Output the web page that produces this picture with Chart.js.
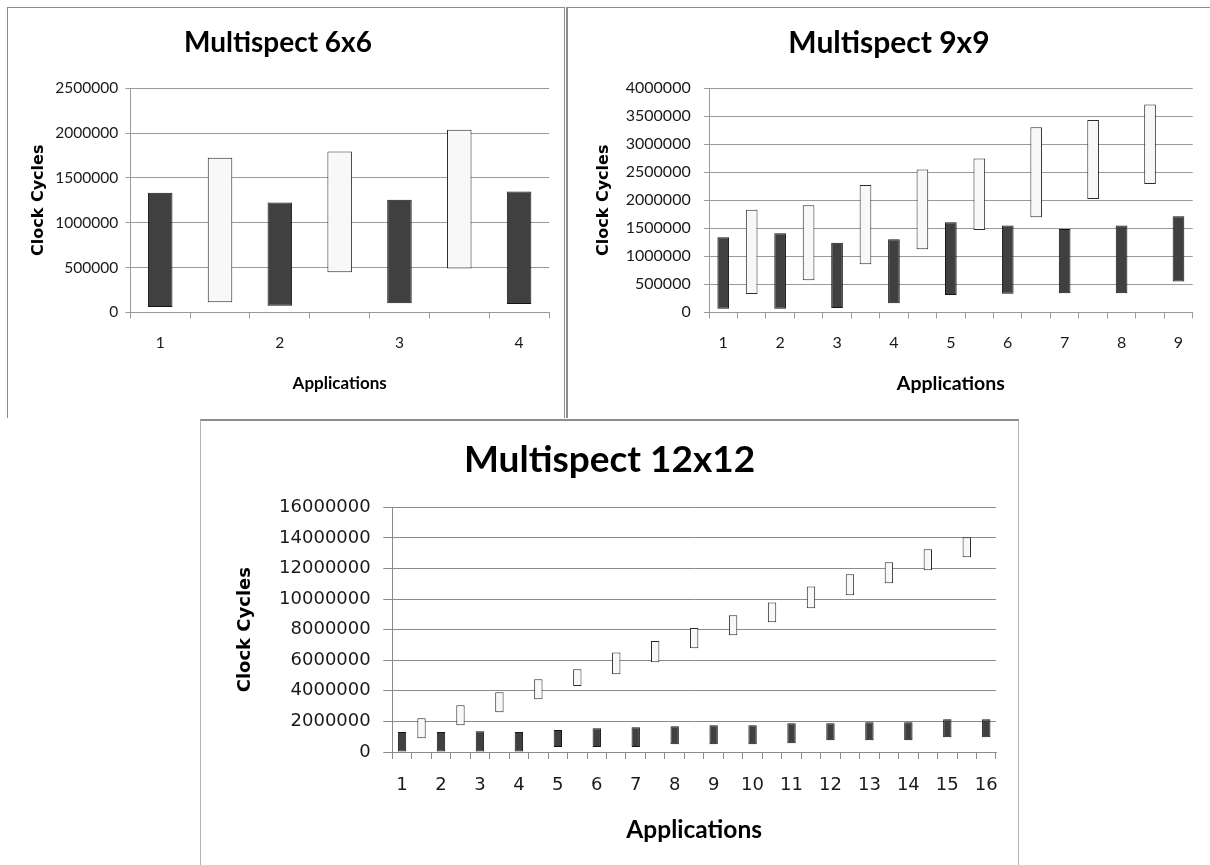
<!DOCTYPE html>
<html>
<head>
<meta charset="utf-8">
<title>Multispect clock cycles</title>
<script src="https://cdn.jsdelivr.net/npm/chart.js@4.4.1/dist/chart.umd.min.js"></script>
<style>
  html, body { margin: 0; padding: 0; background: #fff; width: 1210px; height: 865px; overflow: hidden; }
  .frame { position: absolute; box-sizing: border-box; background: #fff; }
  canvas { position: absolute; }
</style>
</head>
<body>
<div class="frame" style="left:7px;top:7px;width:558px;height:411px;border:1px solid #8c8c8c;border-bottom:none;"></div>
<div class="frame" style="left:566px;top:7px;width:660px;height:411px;border:1px solid #8c8c8c;border-left:2px solid #8c8c8c;border-bottom:none;"></div>
<div class="frame" style="left:200px;top:419px;width:819px;height:470px;border-left:1px solid #b4b4b4;border-right:1px solid #b4b4b4;border-top:2px solid #8c8c8c;"></div>

<canvas id="c6" width="556" height="410" style="left:8px;top:8px;"></canvas>
<canvas id="c9" width="643" height="410" style="left:567px;top:8px;"></canvas>
<canvas id="c12" width="816" height="444" style="left:201px;top:421px;"></canvas>

<script>
// ---- Multispect 6x6 ----
const apps6 = ['1', '2', '3', '4'];
const dark6Low  = [60000, 72000, 102000, 92000];
const dark6High = [1335000, 1225000, 1256000, 1347000];
const light6Low  = [112000, 447000, 490000];
const light6High = [1726000, 1795000, 2038000];

// ---- Multispect 9x9 ----
const apps9 = ['1', '2', '3', '4', '5', '6', '7', '8', '9'];
const dark9Low  = [65000, 65000, 77000, 161000, 310000, 330000, 342000, 342000, 551000];
const dark9High = [1339000, 1411000, 1244000, 1304000, 1607000, 1551000, 1488000, 1551000, 1717000];
const light9Low  = [327000, 571000, 857000, 1128000, 1470000, 1699000, 2024000, 2292000];
const light9High = [1833000, 1911000, 2274000, 2551000, 2747000, 3304000, 3435000, 3711000];

// ---- Multispect 12x12 ----
const apps12 = ['1', '2', '3', '4', '5', '6', '7', '8', '9', '10', '11', '12', '13', '14', '15', '16'];
const dark12Low  = [30000, 30000, 30000, 30000, 320000, 320000, 320000, 510000, 510000, 510000, 580000, 770000, 770000, 770000, 970000, 970000];
const dark12High = [1300000, 1300000, 1360000, 1300000, 1440000, 1560000, 1620000, 1690000, 1750000, 1750000, 1880000, 1880000, 1950000, 1950000, 2140000, 2140000];
const light12Low  = [900000, 1750000, 2600000, 3450000, 4310000, 5090000, 5870000, 6790000, 7640000, 8490000, 9400000, 10250000, 11040000, 11890000, 12730000];
const light12High = [2200000, 3050000, 3910000, 4750000, 5410000, 6510000, 7250000, 8100000, 8940000, 9780000, 10820000, 11620000, 12400000, 13250000, 14040000];

// Application numbers sit on every other slot; the slots in between hold the light bars.
function slotLabels(apps) {
  const out = [];
  apps.forEach((a, i) => { out.push(a); if (i < apps.length - 1) out.push(''); });
  return out;
}
function slotData(lows, highs, start, n) {
  const out = new Array(n).fill(null);
  lows.forEach((lo, i) => { out[start + 2 * i] = [lo, highs[i]]; });
  return out;
}

// Chart title drawn at a fixed spot inside the panel.
const panelTitle = {
  id: 'panelTitle',
  afterDraw(chart, args, opts) {
    const ctx = chart.ctx;
    ctx.save();
    ctx.font = opts.font;
    ctx.fillStyle = '#000';
    ctx.textAlign = 'center';
    ctx.textBaseline = 'middle';
    ctx.fillText(opts.text, opts.x, opts.y);
    ctx.restore();
  }
};

function makeChart(id, p) {
  const labels = slotLabels(p.apps);
  const n = labels.length;
  return new Chart(document.getElementById(id), {
    type: 'bar',
    data: {
      labels: labels,
      datasets: [
        {
          data: slotData(p.darkLow, p.darkHigh, 0, n),
          backgroundColor: '#404040',
          borderColor: '#151515',
          borderWidth: 1,
          borderSkipped: false,
          grouped: false,
          barPercentage: 1,
          categoryPercentage: p.barFrac
        },
        {
          data: slotData(p.lightLow, p.lightHigh, 1, n),
          backgroundColor: '#f8f8f8',
          borderColor: '#2a2a2a',
          borderWidth: 1,
          borderSkipped: false,
          grouped: false,
          barPercentage: 1,
          categoryPercentage: p.barFrac
        }
      ]
    },
    options: {
      responsive: false,
      animation: false,
      devicePixelRatio: 1,
      layout: { padding: { top: p.plotTop, right: p.padRight, left: 0, bottom: 0 } },
      plugins: {
        legend: { display: false },
        tooltip: { enabled: false },
        panelTitle: { text: p.title, font: p.titleFont, x: p.titleX, y: p.titleY }
      },
      scales: {
        x: {
          offset: true,
          grid: { offset: true, drawOnChartArea: false, drawTicks: true, tickLength: p.xTick, color: p.gridColor },
          border: { display: true, color: p.gridColor },
          ticks: { autoSkip: false, maxRotation: 0, minRotation: 0, padding: p.xPad, color: '#1a1a1a', font: p.tickFont },
          title: { display: true, text: 'Applications', color: '#000', font: p.xTitleFont, padding: { top: 0, bottom: p.xTitleBottom } },
          afterFit(s) { s.height = p.xHeight; }
        },
        y: {
          min: 0,
          max: p.yMax,
          grid: { color: p.gridColor, drawTicks: true, tickLength: p.yTick },
          border: { display: true, color: p.gridColor },
          ticks: { stepSize: p.yStep, padding: p.yPad, color: '#1a1a1a', font: p.tickFont, callback: v => String(v) },
          title: { display: true, text: 'Clock Cycles', color: '#000', font: p.yTitleFont, padding: { top: p.yTitleLeft, bottom: 0 } },
          afterFit(s) { s.width = p.yWidth; }
        }
      }
    },
    plugins: [panelTitle]
  });
}

makeChart('c6', {
  apps: apps6, darkLow: dark6Low, darkHigh: dark6High, lightLow: light6Low, lightHigh: light6High,
  yMax: 2500000, yStep: 500000, barFrac: 0.41,
  title: 'Multispect 6x6', titleFont: 'bold 28px Lato', titleX: 270, titleY: 35,
  plotTop: 80.3, padRight: 15, yWidth: 122.3, xHeight: 105.7,
  xTick: 6, xPad: 15, yTick: 5, yPad: 7,
  tickFont: { family: 'Lato', size: 15.5 },
  xTitleFont: { family: 'Lato', size: 17, weight: 'bold' }, xTitleBottom: 24.5,
  yTitleFont: { family: 'DejaVu Sans', size: 16, weight: 'bold' }, yTitleLeft: 21.7,
  gridColor: '#9a9a9a'
});

makeChart('c9', {
  apps: apps9, darkLow: dark9Low, darkHigh: dark9High, lightLow: light9Low, lightHigh: light9High,
  yMax: 4000000, yStep: 500000, barFrac: 0.41,
  title: 'Multispect 9x9', titleFont: 'bold 30px Lato', titleX: 322, titleY: 35,
  plotTop: 80.3, padRight: 17.3, yWidth: 142, xHeight: 105.7,
  xTick: 6, xPad: 15, yTick: 5, yPad: 13.3,
  tickFont: { family: 'Lato', size: 16 },
  xTitleFont: { family: 'Lato', size: 19.5, weight: 'bold' }, xTitleBottom: 23,
  yTitleFont: { family: 'DejaVu Sans', size: 16, weight: 'bold' }, yTitleLeft: 27.4,
  gridColor: '#9a9a9a'
});

makeChart('c12', {
  apps: apps12, darkLow: dark12Low, darkHigh: dark12High, lightLow: light12Low, lightHigh: light12High,
  yMax: 16000000, yStep: 2000000, barFrac: 0.43,
  title: 'Multispect 12x12', titleFont: 'bold 37px Lato', titleX: 408.6, titleY: 39,
  plotTop: 86.3, padRight: 21, yWidth: 191.3, xHeight: 113,
  xTick: 7, xPad: 16, yTick: 9, yPad: 12.6,
  tickFont: { family: 'DejaVu Sans', size: 18 },
  xTitleFont: { family: 'Lato', size: 24.5, weight: 'bold' }, xTitleBottom: 20,
  yTitleFont: { family: 'DejaVu Sans', size: 18, weight: 'bold' }, yTitleLeft: 33.2,
  gridColor: '#8a8a8a'
});
</script>
</body>
</html>
